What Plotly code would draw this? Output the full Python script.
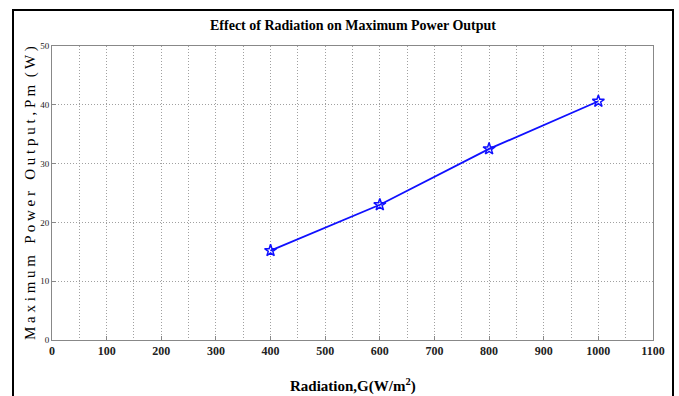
import plotly.graph_objects as go

radiation = [400, 600, 800, 1000]
power = [15.2, 23.0, 32.5, 40.6]

title_text = "Effect of Radiation on Maximum Power Output"
xtitle = "Radiation,G(W/m<sup>2</sup>)"
ytitle = "M a x i m u m   P o w e r   O u t p u t , P m  ( W )"

fig = go.Figure()
fig.add_trace(go.Scatter(
    x=radiation, y=power, mode="lines+markers",
    line=dict(color="#1010ff", width=1.8),
    marker=dict(symbol="star-open", size=9, color="#1010ff", line=dict(width=1.5, color="#1010ff")),
    showlegend=False,
))

W, H = 679, 396
L, R, T, B = 52, 26, 46, 56
grid = "#a0a0a0"
dash = "1px,2px"

fig.update_layout(
    width=W, height=H,
    margin=dict(l=L, r=R, t=T, b=B),
    paper_bgcolor="white", plot_bgcolor="white",
    font=dict(family="Liberation Serif", color="black"),
    xaxis=dict(
        range=[0, 1100], dtick=100, tick0=0,
        showgrid=True, gridcolor=grid, griddash=dash, gridwidth=1,
        minor=dict(dtick=50, showgrid=True, gridcolor=grid, griddash=dash, gridwidth=1),
        showline=True, linecolor="#888888", linewidth=1, mirror=True,
        ticks="inside", ticklen=4, tickcolor="#888888",
        tickfont=dict(family="Liberation Serif", size=12, color="#222222", weight="bold"),
        zeroline=False,
    ),
    yaxis=dict(
        range=[0, 50], dtick=10, tick0=0,
        showgrid=True, gridcolor=grid, griddash=dash, gridwidth=1,
        showline=True, linecolor="#888888", linewidth=1, mirror=True,
        ticks="inside", ticklen=4, tickcolor="#888888",
        tickfont=dict(family="Liberation Serif", size=9, color="#222222"),
        ticklabelstandoff=0,
        zeroline=False,
    ),
    annotations=[
        dict(text="<b>" + title_text + "</b>", xref="paper", yref="paper",
             x=0.5, y=1, yshift=21, showarrow=False, xanchor="center", yanchor="middle",
             font=dict(family="Liberation Serif", size=14, color="black")),
        dict(text="<b>" + xtitle + "</b>", xref="paper", yref="paper",
             x=0.5, y=0, yshift=-45, showarrow=False, xanchor="center", yanchor="middle",
             font=dict(family="Liberation Serif", size=15, color="black")),
        dict(text=ytitle, xref="paper", yref="paper", textangle=-90,
             x=0, xshift=-22, y=0.5, showarrow=False, xanchor="center", yanchor="middle",
             font=dict(family="Liberation Serif", size=15, color="black")),
    ],
    shapes=[
        dict(type="rect", xref="paper", yref="paper",
             x0=(13 - L) / (W - L - R), x1=(673 - L) / (W - L - R),
             y0=(H - B - 400) / (H - T - B), y1=(H - B - 10) / (H - T - B),
             line=dict(color="black", width=2), fillcolor="rgba(0,0,0,0)", layer="above"),
    ],
)

fig.write_html("out.html")
